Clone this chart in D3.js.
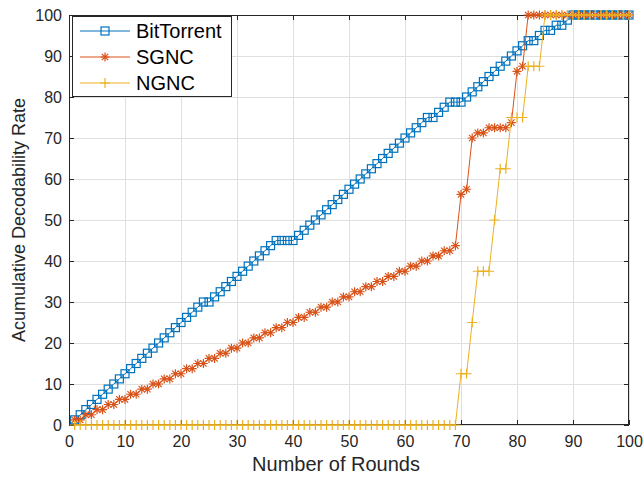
<!DOCTYPE html>
<html>
<head>
<meta charset="utf-8">
<script src="https://cdn.jsdelivr.net/npm/d3@7"></script>
<style>
  html, body { margin: 0; padding: 0; background: #ffffff; }
  svg { display: block; font-family: "Liberation Sans", Arial, Helvetica, sans-serif; }
</style>
</head>
<body>
<svg id="chart" width="643" height="479"></svg>
<script>
// Round index for every sample (1 … 100)
const rounds = [
  1,2,3,4,5,6,7,8,9,10,11,12,13,14,15,16,17,18,19,20,
  21,22,23,24,25,26,27,28,29,30,31,32,33,34,35,36,37,38,39,40,
  41,42,43,44,45,46,47,48,49,50,51,52,53,54,55,56,57,58,59,60,
  61,62,63,64,65,66,67,68,69,70,71,72,73,74,75,76,77,78,79,80,
  81,82,83,84,85,86,87,88,89,90,91,92,93,94,95,96,97,98,99,100
];

// Cumulative decodability rate (%) per round
const bitTorrent = [
  1.25,2.5,3.75,5,6.25,7.5,8.75,10,11.25,12.5,13.75,15,16.25,17.5,18.75,20,21.25,22.5,23.75,25,
  26.25,27.5,28.75,30,30,31.25,32.5,33.75,35,36.25,37.5,38.75,40,41.25,42.5,43.75,45,45,45,45,
  46.25,47.5,48.75,50,51.25,52.5,53.75,55,56.25,57.5,58.75,60,61.25,62.5,63.75,65,66.25,67.5,68.75,70,
  71.25,72.5,73.75,75,75,76.25,77.5,78.75,78.75,78.75,80,81.25,82.5,83.75,85,86.25,87.5,88.75,90,91.25,
  92.5,93.75,93.75,95,96.25,96.25,97.5,97.5,98.75,100,100,100,100,100,100,100,100,100,100,100
];

const sgnc = [
  1.25,1.25,2.5,2.5,3.75,3.75,5,5,6.25,6.25,7.5,7.5,8.75,8.75,10,10,11.25,11.25,12.5,12.5,
  13.75,13.75,15,15,16.25,16.25,17.5,17.5,18.75,18.75,20,20,21.25,21.25,22.5,22.5,23.75,23.75,25,25,
  26.25,26.25,27.5,27.5,28.75,28.75,30,30,31.25,31.25,32.5,32.5,33.75,33.75,35,35,36.25,36.25,37.5,37.5,
  38.75,38.75,40,40,41.25,41.25,42.5,42.5,43.75,56.25,57.5,70,71.25,71.25,72.5,72.5,72.5,72.5,73.75,86.25,
  87.5,100,100,100,100,100,100,100,100,100,100,100,100,100,100,100,100,100,100,100
];

const ngnc = [
  0,0,0,0,0,0,0,0,0,0,0,0,0,0,0,0,0,0,0,0,
  0,0,0,0,0,0,0,0,0,0,0,0,0,0,0,0,0,0,0,0,
  0,0,0,0,0,0,0,0,0,0,0,0,0,0,0,0,0,0,0,0,
  0,0,0,0,0,0,0,0,0,12.5,12.5,25,37.5,37.5,37.5,50,62.5,62.5,75,75,
  75,87.5,87.5,87.5,100,100,100,100,100,100,100,100,100,100,100,100,100,100,100,100
];

const seriesNames = ["BitTorrent", "SGNC", "NGNC"];
const tickValues = [0,10,20,30,40,50,60,70,80,90,100];
const xTitle = "Number of Rounds";
const yTitle = "Acumulative Decodability Rate";

const colors = ["#0072BD", "#D95319", "#EDB120"];
const markers = ["square", "asterisk", "plus"];

const svg = d3.select("#chart");
const W = 643, H = 479;
const plot = { left: 69, right: 629, top: 15, bottom: 425 };

svg.append("rect").attr("width", W).attr("height", H).attr("fill", "#ffffff");

const x = d3.scaleLinear().domain([0, 100]).range([plot.left, plot.right]);
const y = d3.scaleLinear().domain([0, 100]).range([plot.bottom, plot.top]);

// grid
const grid = svg.append("g").attr("stroke", "#dfdfdf").attr("stroke-width", 1);
tickValues.forEach(t => {
  grid.append("line").attr("x1", Math.round(x(t)) + 0.5).attr("x2", Math.round(x(t)) + 0.5)
    .attr("y1", plot.top).attr("y2", plot.bottom);
  grid.append("line").attr("y1", Math.round(y(t)) + 0.5).attr("y2", Math.round(y(t)) + 0.5)
    .attr("x1", plot.left).attr("x2", plot.right);
});

// axes (ticks point inward, box on all sides)
const axisColor = "#262626";
function styleAxis(g) {
  g.select(".domain").remove();
  g.selectAll(".tick line").attr("stroke", axisColor);
  g.selectAll(".tick text").attr("fill", axisColor).attr("font-size", 16)
    .attr("font-family", "'Liberation Sans', Arial, sans-serif");
}
svg.append("g").attr("transform", `translate(0,${plot.bottom})`)
  .call(d3.axisBottom(x).tickValues(tickValues).tickFormat(d3.format("d")).tickSize(-5).tickPadding(11))
  .call(styleAxis);
svg.append("g").attr("transform", `translate(0,${plot.top})`)
  .call(d3.axisTop(x).tickValues(tickValues).tickFormat("").tickSize(-5))
  .call(styleAxis);
svg.append("g").attr("transform", `translate(${plot.left},0)`)
  .call(d3.axisLeft(y).tickValues(tickValues).tickFormat(d3.format("d")).tickSize(-5).tickPadding(7))
  .call(styleAxis);
svg.append("g").attr("transform", `translate(${plot.right},0)`)
  .call(d3.axisRight(y).tickValues(tickValues).tickFormat("").tickSize(-5))
  .call(styleAxis);

svg.append("rect")
  .attr("x", plot.left + 0.5).attr("y", plot.top + 0.5)
  .attr("width", plot.right - plot.left - 1).attr("height", plot.bottom - plot.top - 1)
  .attr("fill", "none").attr("stroke", axisColor).attr("stroke-width", 1);

// marker drawing
function drawMarker(g, type, cx, cy, color) {
  if (type === "square") {
    const s = 8;
    g.append("rect").attr("x", cx - s / 2).attr("y", cy - s / 2).attr("width", s).attr("height", s)
      .attr("fill", "none").attr("stroke", color).attr("stroke-width", 1.2);
  } else if (type === "plus") {
    const r = 5;
    g.append("path").attr("d", `M${cx - r},${cy}H${cx + r}M${cx},${cy - r}V${cy + r}`)
      .attr("stroke", color).attr("stroke-width", 1.2).attr("fill", "none");
  } else {
    const r = 4.5, d = r * 0.7071;
    g.append("path")
      .attr("d", `M${cx - r},${cy}H${cx + r}M${cx},${cy - r}V${cy + r}` +
        `M${cx - d},${cy - d}L${cx + d},${cy + d}M${cx - d},${cy + d}L${cx + d},${cy - d}`)
      .attr("stroke", color).attr("stroke-width", 1.2).attr("fill", "none");
  }
}

const allSeries = [bitTorrent, sgnc, ngnc];
const line = d3.line().x(d => x(d[0])).y(d => y(d[1]));

allSeries.forEach((vals, i) => {
  const pts = rounds.map((r, k) => [r, vals[k]]);
  const g = svg.append("g");
  g.append("path").datum(pts).attr("d", line)
    .attr("fill", "none").attr("stroke", colors[i]).attr("stroke-width", 1);
  pts.forEach(p => drawMarker(g, markers[i], x(p[0]), y(p[1]), colors[i]));
});

// axis titles
svg.append("text").attr("x", 336).attr("y", 471)
  .attr("text-anchor", "middle").attr("font-size", 20).attr("fill", axisColor).text(xTitle);
svg.append("text")
  .attr("transform", `translate(25,${(plot.top + plot.bottom) / 2}) rotate(-90)`)
  .attr("text-anchor", "middle").attr("font-size", 18).attr("fill", axisColor).text(yTitle);

// legend
const lg = svg.append("g");
lg.append("rect").attr("x", 72.5).attr("y", 16.5).attr("width", 159).attr("height", 80)
  .attr("fill", "#ffffff").attr("stroke", axisColor).attr("stroke-width", 1);
seriesNames.forEach((name, i) => {
  const ly = 31 + i * 26;
  lg.append("line").attr("x1", 80).attr("x2", 130).attr("y1", ly).attr("y2", ly)
    .attr("stroke", colors[i]).attr("stroke-width", 1);
  drawMarker(lg, markers[i], 105, ly, colors[i]);
  lg.append("text").attr("x", 136).attr("y", ly).attr("dy", "0.36em")
    .attr("font-size", 20).attr("fill", "#000000").text(name);
});
</script>
</body>
</html>
